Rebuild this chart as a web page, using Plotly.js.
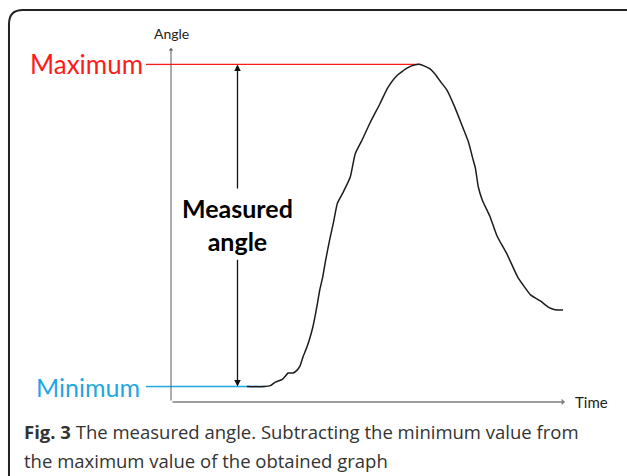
<!DOCTYPE html>
<html>
<head>
<meta charset="utf-8">
<script src="https://cdn.plot.ly/plotly-3.0.1.min.js"></script>
<style>
  html, body { margin: 0; padding: 0; background: #ffffff; }
  #chart { width: 627px; height: 476px; }
</style>
</head>
<body>
<div id="chart"></div>
<script>
// Time (s) and measured angle (deg)
const timeValues = [0.77, 0.95, 1.01, 1.06, 1.13, 1.19, 1.24, 1.28, 1.31, 1.34, 1.38, 1.41, 1.44, 1.48, 1.51, 1.54, 1.57, 1.61, 1.65, 1.69, 1.75, 1.82, 1.87, 1.94, 2.02, 2.12, 2.20, 2.29, 2.40, 2.47, 2.53, 2.58, 2.63, 2.68, 2.74, 2.80, 2.88, 2.96, 3.02, 3.06, 3.09, 3.12, 3.16, 3.24, 3.31, 3.41, 3.52, 3.59, 3.65, 3.75, 3.83, 3.90, 3.98];
const angleValues = [4.8, 4.8, 5.1, 6.2, 7.0, 9.0, 9.0, 9.9, 11.2, 14.0, 17.1, 19.9, 23.3, 29.5, 34.8, 38.8, 44.1, 50.3, 55.9, 61.8, 65.3, 69.9, 77.1, 81.4, 86.7, 92.6, 97.6, 101.3, 103.8, 104.7, 104.9, 104.3, 103.5, 101.9, 99.4, 97.0, 91.7, 85.5, 80.8, 76.1, 72.7, 66.8, 62.8, 57.5, 51.6, 46.0, 38.8, 35.7, 33.3, 31.4, 29.5, 28.7, 28.6];

const axisLabels = { y: "Angle", x: "Time" };
const markLabels = { max: "Maximum", min: "Minimum", measured: "Measured<br>angle" };
const captionBold = "Fig. 3";
const captionLine1 = " The measured angle. Subtracting the minimum value from";
const captionLine2 = "the maximum value of the obtained graph";

const timeRange = [0, 4];
const angleRange = [0, 110];

const maxAngle = Math.max(...angleValues);
const minAngle = Math.min(...angleValues);
const peakTime = timeValues[angleValues.indexOf(maxAngle)];
const minEndTime = timeValues[angleValues.lastIndexOf(minAngle)];
const arrowTime = 0.675;
const arrowUpperTail = 65.9;
const arrowLowerTail = 44.7;

const RED = "#ff1a1a";
const BLUE = "#1ea7e4";
const AXIS = "#7f7f7f";

const trace = {
  x: timeValues,
  y: angleValues,
  type: "scatter",
  mode: "lines",
  line: { color: "#1c1c1c", width: 1.5, shape: "spline", smoothing: 0.5 },
  hoverinfo: "skip"
};

const shapes = [
  // rounded figure frame
  { type: "path", xref: "paper", yref: "paper",
    path: "M -0.4112,-0.30 L -0.4112,1.0678 Q -0.4112,1.1073 -0.3757,1.1073 L 1.25,1.1073",
    line: { color: "#222222", width: 2 }, layer: "above" },
  // maximum level
  { type: "line", xref: "paper", yref: "y", x0: -0.0635, x1: 0, y0: maxAngle, y1: maxAngle,
    line: { color: RED, width: 1.3 }, layer: "below" },
  { type: "line", xref: "x", yref: "y", x0: timeRange[0], x1: peakTime, y0: maxAngle, y1: maxAngle,
    line: { color: RED, width: 1.3 }, layer: "below" },
  // minimum level
  { type: "line", xref: "paper", yref: "y", x0: -0.0635, x1: 0, y0: minAngle, y1: minAngle,
    line: { color: BLUE, width: 1.5 }, layer: "below" },
  { type: "line", xref: "x", yref: "y", x0: timeRange[0], x1: minEndTime, y0: minAngle, y1: minAngle,
    line: { color: BLUE, width: 1.5 }, layer: "below" }
];

const annotations = [
  // axes with arrows
  { xref: "x", yref: "y", x: timeRange[0], y: angleRange[1], axref: "x", ayref: "y",
    ax: timeRange[0], ay: angleRange[0], text: "", showarrow: true, arrowhead: 1,
    arrowsize: 0.8, arrowwidth: 1, arrowcolor: "#5a5a5a", standoff: 0 },
  { xref: "x", yref: "y", x: timeRange[1], y: angleRange[0], axref: "x", ayref: "y",
    ax: timeRange[0], ay: angleRange[0], text: "", showarrow: true, arrowhead: 1,
    arrowsize: 0.8, arrowwidth: 1.4, arrowcolor: AXIS, standoff: 0 },
  { xref: "paper", yref: "paper", x: 0, y: 1, yshift: 15, xanchor: "center", yanchor: "middle",
    text: axisLabels.y, showarrow: false, font: { family: "Lato, sans-serif", size: 14, color: "#222" } },
  { xref: "paper", yref: "paper", x: 1, y: 0, xshift: 8, xanchor: "left", yanchor: "middle",
    text: axisLabels.x, showarrow: false, font: { family: "Lato, sans-serif", size: 15, color: "#222" } },
  // level labels
  { xref: "paper", yref: "y", x: 0, y: maxAngle, xshift: -26, xanchor: "right", yanchor: "middle",
    text: markLabels.max, showarrow: false, font: { family: "Lato, sans-serif", size: 26, color: RED } },
  { xref: "paper", yref: "y", x: 0, y: minAngle, xshift: -29, xanchor: "right", yanchor: "middle",
    text: markLabels.min, showarrow: false, font: { family: "Lato, sans-serif", size: 25, color: BLUE } },
  // measured angle arrows
  { xref: "x", yref: "y", x: arrowTime, y: maxAngle, axref: "x", ayref: "y",
    ax: arrowTime, ay: arrowUpperTail, text: "", showarrow: true, arrowhead: 2,
    arrowsize: 1, arrowwidth: 1.3, arrowcolor: "#111", standoff: 0 },
  { xref: "x", yref: "y", x: arrowTime, y: minAngle, axref: "x", ayref: "y",
    ax: arrowTime, ay: arrowLowerTail, text: "", showarrow: true, arrowhead: 2,
    arrowsize: 1, arrowwidth: 1.3, arrowcolor: "#111", standoff: 0 },
  { xref: "x", yref: "y", x: arrowTime, y: (arrowUpperTail + arrowLowerTail) / 2,
    xanchor: "center", yanchor: "middle", text: "<b>" + markLabels.measured + "</b>",
    showarrow: false, font: { family: "Lato, sans-serif", size: 25, color: "#000" } },
  // caption
  { xref: "paper", yref: "paper", x: -0.378, y: -0.084, xanchor: "left", yanchor: "middle",
    text: "<b>" + captionBold + "</b>" + captionLine1, showarrow: false, align: "left",
    font: { family: "Open Sans, sans-serif", size: 18.5, color: "#333" } },
  { xref: "paper", yref: "paper", x: -0.378, y: -0.164, xanchor: "left", yanchor: "middle",
    text: captionLine2, showarrow: false, align: "left",
    font: { family: "Open Sans, sans-serif", size: 18.5, color: "#333" } }
];

const layout = {
  width: 627,
  height: 476,
  margin: { l: 171, r: 62, t: 48, b: 74 },
  paper_bgcolor: "#ffffff",
  plot_bgcolor: "rgba(0,0,0,0)",
  showlegend: false,
  xaxis: { range: timeRange, visible: false, fixedrange: true },
  yaxis: { range: angleRange, visible: false, fixedrange: true },
  shapes: shapes,
  annotations: annotations
};

Plotly.newPlot("chart", [trace], layout, { staticPlot: true, displayModeBar: false });
</script>
</body>
</html>
